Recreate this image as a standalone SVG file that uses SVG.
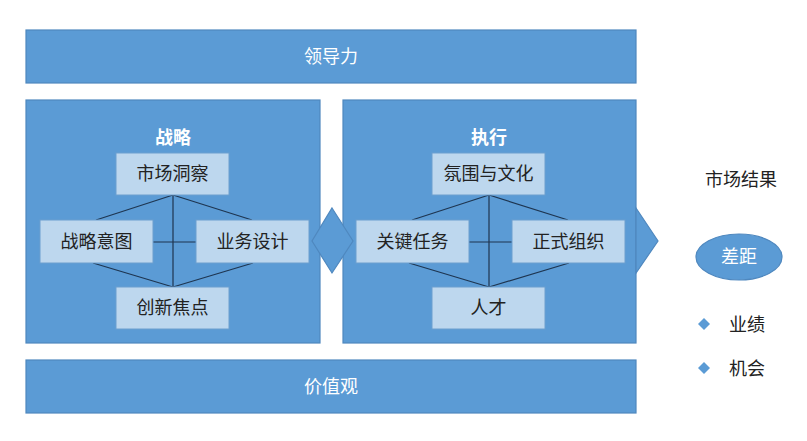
<svg xmlns="http://www.w3.org/2000/svg" width="807" height="441" viewBox="0 0 807 441">
<style>
.big{fill:#5b9bd5;stroke:#4f88bf;stroke-width:1.2}
.inner{fill:#bdd7ee;stroke:#6d9fcf;stroke-width:1}
.t{font-family:"Noto Sans CJK SC","Liberation Sans",sans-serif;font-size:18px;fill:#222;text-anchor:middle}
.w{font-family:"Noto Sans CJK SC","Liberation Sans",sans-serif;font-size:18px;fill:#fff;text-anchor:middle}
.ln{stroke:#1e3550;stroke-width:1.2;fill:none}
</style>
<rect width="807" height="441" fill="#fff"/>
<g id="leadership"><rect class="big" x="26" y="30" width="610" height="53"/><text class="w" x="331" y="63">领导力</text></g>
<g id="strategy"><rect class="big" x="26" y="100" width="294" height="243"/><text class="w" x="173" y="144" font-weight="bold">战略</text></g>
<g id="execution"><rect class="big" x="343" y="100" width="293" height="243"/><text class="w" x="489" y="144" font-weight="bold">执行</text></g>
<g id="values"><rect class="big" x="26" y="360" width="610" height="53"/><text class="w" x="331" y="393">价值观</text></g>
<g id="connectors">
<path class="ln" d="M173,195 L96,220 M173,195 L252,220 M173,195 L173,287 M153,242 L196,242 M93,263 L173,287 M253,263 L173,287"/>
<path class="ln" d="M489,195 L412,220 M489,195 L568,220 M489,195 L489,287 M469,242 L512,242 M409,263 L489,287 M569,263 L489,287"/>
</g>
<g id="market-insight"><rect class="inner" x="116" y="153" width="113" height="42"/><text class="t" x="172.5" y="180">市场洞察</text></g>
<g id="strategic-intent"><rect class="inner" x="40" y="220" width="113" height="43"/><text class="t" x="96.5" y="248">战略意图</text></g>
<g id="business-design"><rect class="inner" x="196" y="220" width="113" height="43"/><text class="t" x="252.5" y="248">业务设计</text></g>
<g id="innovation-focus"><rect class="inner" x="116" y="287" width="113" height="42"/><text class="t" x="172.5" y="314">创新焦点</text></g>
<g id="climate-culture"><rect class="inner" x="432" y="153" width="113" height="42"/><text class="t" x="488.5" y="180">氛围与文化</text></g>
<g id="key-tasks"><rect class="inner" x="356" y="220" width="113" height="43"/><text class="t" x="412.5" y="248">关键任务</text></g>
<g id="formal-org"><rect class="inner" x="512" y="220" width="113" height="43"/><text class="t" x="568.5" y="248">正式组织</text></g>
<g id="talent"><rect class="inner" x="432" y="287" width="113" height="42"/><text class="t" x="488.5" y="314">人才</text></g>
<g id="link-diamond"><polygon class="big" points="332,208 353,241 332,273 312,241"/></g>
<g id="out-arrow"><polygon class="big" points="636,208 658,241 636,273"/></g>
<g id="market-result"><text class="t" x="741" y="186">市场结果</text></g>
<g id="gap"><ellipse class="big" cx="739" cy="257" rx="43" ry="23"/><text class="w" x="739" y="263">差距</text></g>
<g id="performance"><polygon fill="#5b9bd5" points="704,318 710,324 704,330 698,324"/><text class="t" x="729" y="331" text-anchor="start" style="text-anchor:start">业绩</text></g>
<g id="opportunity"><polygon fill="#5b9bd5" points="704,362 710,368 704,374 698,368"/><text class="t" x="729" y="375" style="text-anchor:start">机会</text></g>
</svg>
